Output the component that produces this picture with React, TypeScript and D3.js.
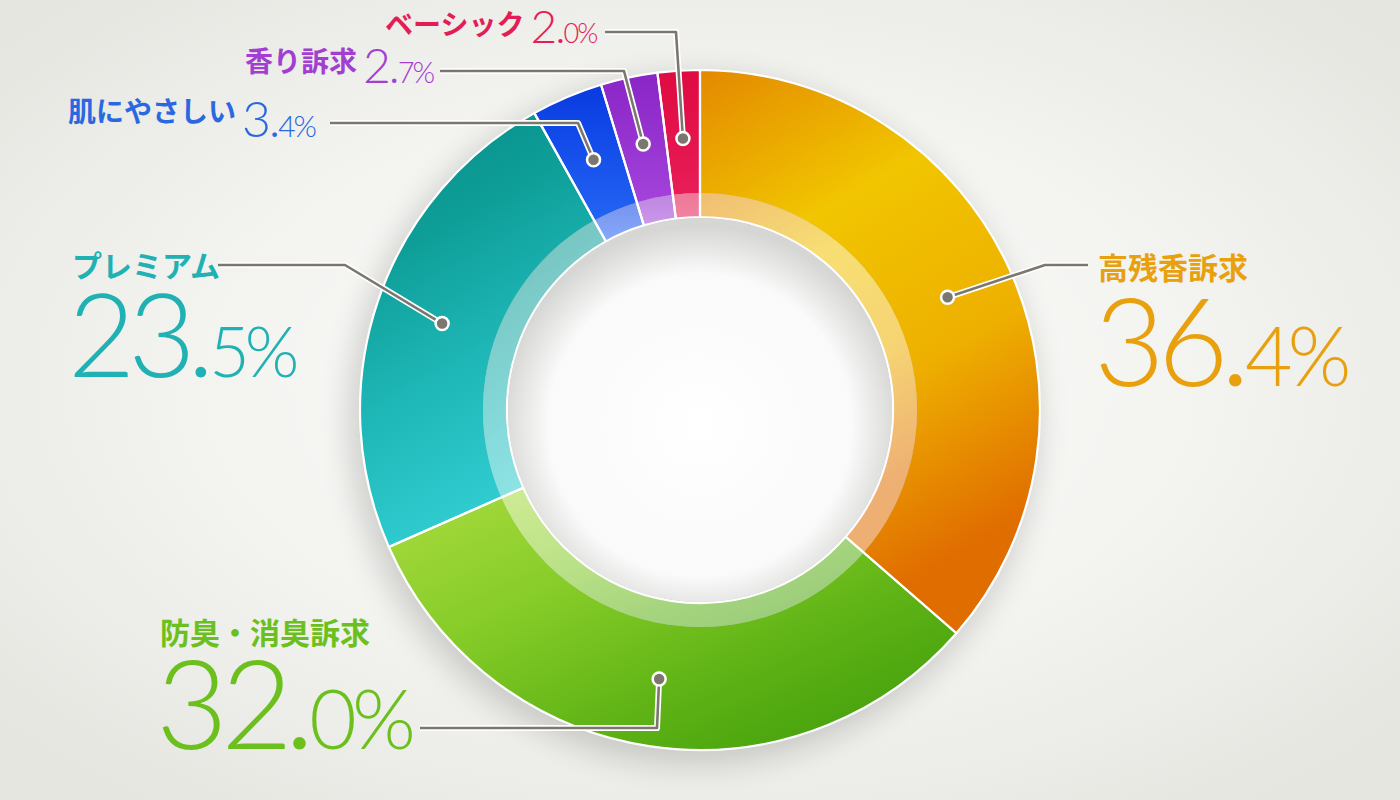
import React, { useEffect, useRef } from 'react';
import * as d3 from 'd3';

// detergent segments, clockwise from 12 o'clock
const categories = ['高残香訴求', '防臭・消臭訴求', 'プレミアム', '肌にやさしい', '香り訴求', 'ベーシック'];
const shares = [36.4, 32.0, 23.5, 3.4, 2.7, 2.0];
const labelColors = ['#e8a00e', '#6cc01e', '#1fb1b3', '#2a68e2', '#a23ed2', '#e31d56'];
const gradStops = [
  ['#e38900', '#f1c500', '#eeb000', '#e06d00'],
  ['#a8db3e', '#86cc28', '#5cb114', '#3c9a0a'],
  ['#078a84', '#0e9e98', '#1fb8b8', '#31cdd1'],
  ['#0a3ae0', '#1148e8', '#1a56ee', '#2364f2'],
  ['#8a26c6', '#922ecc', '#9a38d4', '#a442da'],
  ['#df0a42', '#e21048', '#e5164f', '#e81d58']
];
const gradDir = [
  [0, 0, 0.35, 1],
  [0, 0, 1, 1],
  [0, 0, 0.3, 1],
  [0, 0, 0, 1],
  [0, 0, 0, 1],
  [0, 0, 0, 1]
];

// annotation layout: elbow point, end of horizontal rule, text anchor and sizes
const callouts = [
  { elbow: [1045, 265], endX: 1088, x: 1098, nameY: 279, valueY: 386, big: true, intSize: 122, decSize: 82 },
  { elbow: [657, 728], endX: 420, x: 160, nameY: 644, valueY: 749, big: true, intSize: 124, decSize: 82 },
  { elbow: [345, 265], endX: 218, x: 72, nameY: 277, valueY: 377, big: true, intSize: 116, decSize: 70 },
  { elbow: [578, 123], endX: 330, x: 68, nameY: 122, valueY: 137, big: false, intSize: 50, decSize: 30 },
  { elbow: [624, 71], endX: 440, x: 245, nameY: 72, valueY: 83, big: false, intSize: 48, decSize: 29 },
  { elbow: [676, 32], endX: 605, x: 385, nameY: 35, valueY: 43, big: false, intSize: 46, decSize: 27 }
];

const W = 1400;
const H = 800;
const CX = 700;
const CY = 410;
const R_OUT = 340;
const R_IN = 217;
const R_HOLE = 193;
const R_DOT = 272;

const jpFont = '"Noto Sans CJK JP", "Noto Sans", sans-serif';
const numFont = 'Lato, "Open Sans", sans-serif';

const App: React.FC = () => {
  const svgRef = useRef<SVGSVGElement>(null);

  useEffect(() => {
    document.body.style.margin = '0';
    if (!svgRef.current) return;
    const svg = d3.select(svgRef.current);
    svg.selectAll('*').remove();

    const defs = svg.append('defs');

    const bg = defs.append('radialGradient').attr('id', 'bg')
      .attr('cx', '50%').attr('cy', '48%').attr('r', '65%');
    bg.append('stop').attr('offset', '0%').attr('stop-color', '#fdfdfc');
    bg.append('stop').attr('offset', '55%').attr('stop-color', '#f3f3f0');
    bg.append('stop').attr('offset', '100%').attr('stop-color', '#e6e6e1');

    const hole = defs.append('radialGradient').attr('id', 'hole')
      .attr('cx', '50%').attr('cy', '54%').attr('r', '52%');
    hole.append('stop').attr('offset', '0%').attr('stop-color', '#ffffff');
    hole.append('stop').attr('offset', '76%').attr('stop-color', '#fafafa');
    hole.append('stop').attr('offset', '100%').attr('stop-color', '#d6d6d4');

    defs.append('filter').attr('id', 'blur')
      .attr('x', '-30%').attr('y', '-30%').attr('width', '160%').attr('height', '160%')
      .append('feGaussianBlur').attr('stdDeviation', 16);

    gradStops.forEach((stops, i) => {
      const [x1, y1, x2, y2] = gradDir[i];
      const g = defs.append('linearGradient').attr('id', `seg${i}`)
        .attr('x1', x1).attr('y1', y1).attr('x2', x2).attr('y2', y2);
      stops.forEach((c, k) => {
        g.append('stop').attr('offset', k / (stops.length - 1)).attr('stop-color', c);
      });
    });

    svg.append('rect').attr('width', W).attr('height', H).attr('fill', 'url(#bg)');

    const root = svg.append('g').attr('transform', `translate(${CX},${CY})`);

    // soft shadow behind the ring
    root.append('circle')
      .attr('cx', -6).attr('cy', 10).attr('r', R_OUT + 4)
      .attr('fill', '#000').attr('opacity', 0.17)
      .attr('filter', 'url(#blur)');

    const pie = d3.pie<number>().sort(null).value(d => d);
    const arcs = pie(shares);

    const outerArc = d3.arc<d3.PieArcDatum<number>>().innerRadius(R_IN).outerRadius(R_OUT);
    const bandArc = d3.arc<d3.PieArcDatum<number>>().innerRadius(R_HOLE).outerRadius(R_IN);
    const dotArc = d3.arc<d3.PieArcDatum<number>>().innerRadius(R_DOT).outerRadius(R_DOT);
    const fullArc = d3.arc<d3.PieArcDatum<number>>().innerRadius(R_HOLE).outerRadius(R_OUT);

    root.append('g').selectAll('path').data(arcs).join('path')
      .attr('d', outerArc)
      .attr('fill', (_, i) => `url(#seg${i})`);

    const band = root.append('g');
    band.selectAll('path.c').data(arcs).join('path').attr('class', 'c')
      .attr('d', bandArc)
      .attr('fill', (_, i) => `url(#seg${i})`);
    band.selectAll('path.w').data(arcs).join('path').attr('class', 'w')
      .attr('d', bandArc)
      .attr('fill', '#ffffff').attr('opacity', 0.45);

    // white separators
    root.append('g').selectAll('path').data(arcs).join('path')
      .attr('d', fullArc)
      .attr('fill', 'none')
      .attr('stroke', '#ffffff')
      .attr('stroke-width', 2.2)
      .attr('stroke-linejoin', 'round');

    root.append('circle').attr('r', R_HOLE - 1).attr('fill', 'url(#hole)');

    // callouts
    const line = d3.line();
    arcs.forEach((a, i) => {
      const c = callouts[i];
      const [dx, dy] = dotArc.centroid(a);
      const p0: [number, number] = [CX + dx, CY + dy];
      const pts: [number, number][] = [p0, [c.elbow[0], c.elbow[1]], [c.endX, c.elbow[1]]];
      svg.append('path').attr('d', line(pts))
        .attr('fill', 'none').attr('stroke', '#ffffff').attr('stroke-width', 6)
        .attr('stroke-linejoin', 'round');
      svg.append('path').attr('d', line(pts))
        .attr('fill', 'none').attr('stroke', '#7b766e').attr('stroke-width', 2.6)
        .attr('stroke-linejoin', 'round');
      svg.append('circle').attr('cx', p0[0]).attr('cy', p0[1]).attr('r', 6.5)
        .attr('fill', '#7b766e').attr('stroke', '#ffffff').attr('stroke-width', 2.5);
    });

    arcs.forEach((a, i) => {
      const c = callouts[i];
      const color = labelColors[i];
      const val = shares[i].toFixed(1);
      const [intPart, decPart] = val.split('.');
      if (c.big) {
        svg.append('text')
          .attr('x', c.x).attr('y', c.nameY)
          .attr('fill', color)
          .style('font-family', jpFont).style('font-weight', 700).style('font-size', '30px')
          .text(categories[i]);
        const t = svg.append('text')
          .attr('x', c.x - 4).attr('y', c.valueY)
          .attr('fill', color)
          .style('font-family', numFont).style('font-weight', 300);
        t.append('tspan').style('font-size', `${c.intSize}px`).attr('letter-spacing', -7).text(intPart);
        t.append('tspan').style('font-size', `${c.decSize}px`).style('font-weight', 700).attr('dx', 4).text('.');
        t.append('tspan').style('font-size', `${c.decSize}px`).attr('letter-spacing', -5).text(decPart + '%');
      } else {
        const t = svg.append('text')
          .attr('x', c.x).attr('y', c.nameY)
          .attr('fill', color);
        t.append('tspan')
          .style('font-family', jpFont).style('font-weight', 700).style('font-size', '28px')
          .text(categories[i]);
        t.append('tspan').attr('dx', 6).attr('dy', c.valueY - c.nameY)
          .style('font-family', numFont).style('font-weight', 300).style('font-size', `${c.intSize}px`)
          .text(intPart);
        t.append('tspan')
          .style('font-family', numFont).style('font-weight', 700).style('font-size', `${c.decSize}px`)
          .text('.');
        t.append('tspan')
          .style('font-family', numFont).style('font-weight', 300).style('font-size', `${c.decSize}px`)
          .attr('letter-spacing', -2)
          .text(decPart + '%');
      }
    });
  }, []);

  return <svg ref={svgRef} width={W} height={H} style={{ display: 'block' }} />;
};

export default App;
